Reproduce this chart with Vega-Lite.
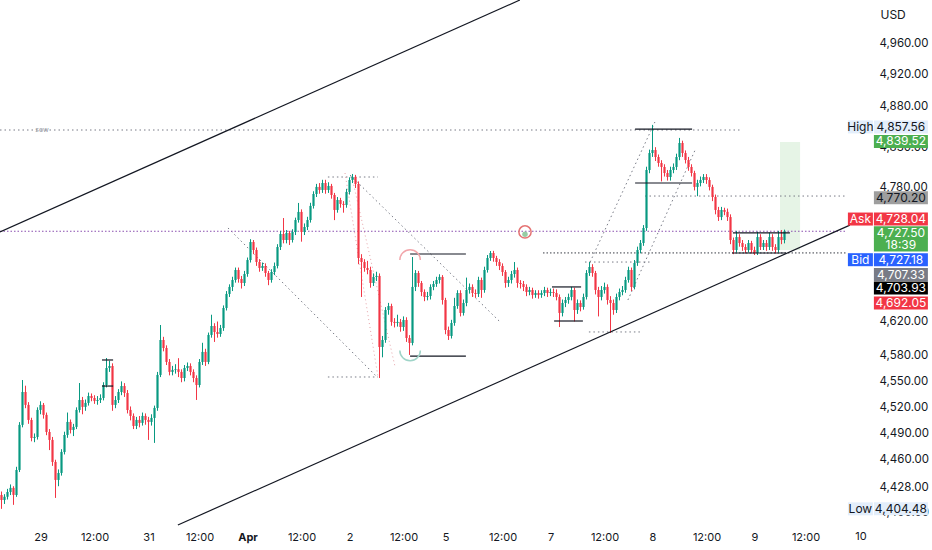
{
"$schema":"https://vega.github.io/schema/vega-lite/v6.json",
"width":846,"height":525,"autosize":{"type":"none"},
"padding":{"left":0,"right":86,"top":0,"bottom":25},
"background":"#ffffff",
"config":{"view":{"stroke":null},"font":"Inter"},
"datasets":{
"one":[{"n":1}],
"candles":[
{"t":0,"o":4420,"h":4424,"l":4404.5,"c":4414.5},{"t":1,"o":4414.5,"h":4421,"l":4410,"c":4418},{"t":2,"o":4418,"h":4427,"l":4415,"c":4423.5},{"t":3,"o":4423.5,"h":4432,"l":4420,"c":4428.1},{"t":4,"o":4428.1,"h":4430,"l":4409,"c":4420.2},{"t":5,"o":4420.2,"h":4452,"l":4418,"c":4448.4},{"t":6,"o":4448.4,"h":4503,"l":4446,"c":4499.8},{"t":7,"o":4499.8,"h":4551.6,"l":4497,"c":4537.7},{"t":8,"o":4537.7,"h":4545,"l":4519,"c":4522.8},{"t":9,"o":4522.8,"h":4526,"l":4501,"c":4505.5},
{"t":10,"o":4505.5,"h":4508,"l":4481,"c":4484.9},{"t":11,"o":4484.9,"h":4490,"l":4480,"c":4486},{"t":12,"o":4486,"h":4520,"l":4483,"c":4517},{"t":13,"o":4517,"h":4527,"l":4512,"c":4522.8},{"t":14,"o":4522.8,"h":4525,"l":4507,"c":4511.3},{"t":15,"o":4511.3,"h":4514,"l":4488,"c":4491.7},{"t":16,"o":4491.7,"h":4495,"l":4471,"c":4482.6},{"t":17,"o":4482.6,"h":4486,"l":4453,"c":4457.5},{"t":18,"o":4457.5,"h":4460,"l":4416.8,"c":4437.1},{"t":19,"o":4437.1,"h":4449,"l":4430,"c":4445},
{"t":20,"o":4445,"h":4472,"l":4442,"c":4468.9},{"t":21,"o":4468.9,"h":4492,"l":4466,"c":4488.3},{"t":22,"o":4488.3,"h":4514,"l":4485,"c":4503.2},{"t":23,"o":4503.2,"h":4506,"l":4490,"c":4494},{"t":24,"o":4494,"h":4501,"l":4487,"c":4497.5},{"t":25,"o":4497.5,"h":4520,"l":4495,"c":4517},{"t":26,"o":4517,"h":4548.1,"l":4514,"c":4528.5},{"t":27,"o":4528.5,"h":4532,"l":4512,"c":4520.5},{"t":28,"o":4520.5,"h":4529,"l":4516,"c":4525.1},{"t":29,"o":4525.1,"h":4537,"l":4522,"c":4533.1},
{"t":30,"o":4533.1,"h":4536,"l":4527,"c":4530.8},{"t":31,"o":4530.8,"h":4534,"l":4524,"c":4527.4},{"t":32,"o":4527.4,"h":4533,"l":4523,"c":4528.5},{"t":33,"o":4528.5,"h":4535,"l":4525,"c":4530.8},{"t":34,"o":4530.8,"h":4549,"l":4528,"c":4545.8},{"t":35,"o":4545.8,"h":4577.2,"l":4543,"c":4565.6},{"t":36,"o":4565.6,"h":4574,"l":4561,"c":4567.9},{"t":37,"o":4567.9,"h":4571,"l":4516,"c":4522.8},{"t":38,"o":4522.8,"h":4533,"l":4519,"c":4528.5},{"t":39,"o":4528.5,"h":4541,"l":4525,"c":4537.7},
{"t":40,"o":4537.7,"h":4550,"l":4534,"c":4544.6},{"t":41,"o":4544.6,"h":4548,"l":4532,"c":4536.6},{"t":42,"o":4536.6,"h":4540,"l":4513,"c":4517},{"t":43,"o":4517,"h":4521,"l":4505,"c":4510.1},{"t":44,"o":4510.1,"h":4513,"l":4495,"c":4498.6},{"t":45,"o":4498.6,"h":4509,"l":4495,"c":4505.5},{"t":46,"o":4505.5,"h":4510,"l":4497,"c":4502.1},{"t":47,"o":4502.1,"h":4514,"l":4499,"c":4510.1},{"t":48,"o":4510.1,"h":4513,"l":4500,"c":4505.5},{"t":49,"o":4505.5,"h":4509,"l":4482.6,"c":4503.2},
{"t":50,"o":4503.2,"h":4512,"l":4499,"c":4507.8},{"t":51,"o":4507.8,"h":4522,"l":4479.2,"c":4519.3},{"t":52,"o":4519.3,"h":4561,"l":4516,"c":4557.5},{"t":53,"o":4557.5,"h":4615.9,"l":4555,"c":4598.3},{"t":54,"o":4598.3,"h":4602,"l":4585,"c":4588.9},{"t":55,"o":4588.9,"h":4592,"l":4569,"c":4572.6},{"t":56,"o":4572.6,"h":4576,"l":4557,"c":4561},{"t":57,"o":4561,"h":4568,"l":4557,"c":4563.3},{"t":58,"o":4563.3,"h":4570,"l":4559,"c":4564.1},{"t":59,"o":4564.1,"h":4577,"l":4555,"c":4561},
{"t":60,"o":4561,"h":4564,"l":4549,"c":4553.9},{"t":61,"o":4553.9,"h":4569,"l":4550,"c":4565.6},{"t":62,"o":4565.6,"h":4572,"l":4562,"c":4567.9},{"t":63,"o":4567.9,"h":4571,"l":4557,"c":4561},{"t":64,"o":4561,"h":4564,"l":4549,"c":4553.9},{"t":65,"o":4553.9,"h":4557,"l":4528.5,"c":4545.8},{"t":66,"o":4545.8,"h":4576,"l":4543,"c":4572.6},{"t":67,"o":4572.6,"h":4595,"l":4569,"c":4584.3},{"t":68,"o":4584.3,"h":4588,"l":4568,"c":4572.6},{"t":69,"o":4572.6,"h":4607,"l":4570,"c":4604.2},
{"t":70,"o":4604.2,"h":4628,"l":4601,"c":4614.7},{"t":71,"o":4614.7,"h":4618,"l":4596,"c":4607.7},{"t":72,"o":4607.7,"h":4620,"l":4601,"c":4605.3},{"t":73,"o":4605.3,"h":4616,"l":4602,"c":4612.3},{"t":74,"o":4612.3,"h":4639,"l":4609,"c":4636},{"t":75,"o":4636,"h":4656,"l":4633,"c":4652.6},{"t":76,"o":4652.6,"h":4664,"l":4649,"c":4660.9},{"t":77,"o":4660.9,"h":4673,"l":4656,"c":4669.2},{"t":78,"o":4669.2,"h":4684,"l":4666,"c":4681.1},{"t":79,"o":4681.1,"h":4684,"l":4666,"c":4670.4},
{"t":80,"o":4670.4,"h":4674,"l":4659,"c":4665.6},{"t":81,"o":4665.6,"h":4680,"l":4662,"c":4676.3},{"t":82,"o":4676.3,"h":4696,"l":4673,"c":4693},{"t":83,"o":4693,"h":4718,"l":4690,"c":4714.6},{"t":84,"o":4714.6,"h":4717,"l":4700,"c":4705},{"t":85,"o":4705,"h":4708,"l":4686,"c":4690.6},{"t":86,"o":4690.6,"h":4694,"l":4679,"c":4683.5},{"t":87,"o":4683.5,"h":4690,"l":4680,"c":4685.9},{"t":88,"o":4685.9,"h":4689,"l":4673,"c":4677.5},{"t":89,"o":4677.5,"h":4680,"l":4663,"c":4669.2},
{"t":90,"o":4669.2,"h":4682,"l":4666,"c":4678.7},{"t":91,"o":4678.7,"h":4690,"l":4675,"c":4685.9},{"t":92,"o":4685.9,"h":4712,"l":4683,"c":4708.6},{"t":93,"o":4708.6,"h":4728,"l":4705,"c":4724.3},{"t":94,"o":4724.3,"h":4743.5,"l":4713,"c":4717},{"t":95,"o":4717,"h":4729,"l":4713,"c":4725.5},{"t":96,"o":4725.5,"h":4728,"l":4711,"c":4717},{"t":97,"o":4717,"h":4730,"l":4714,"c":4726.7},{"t":98,"o":4726.7,"h":4744,"l":4723,"c":4741.1},{"t":99,"o":4741.1,"h":4761.8,"l":4738,"c":4750.9},
{"t":100,"o":4750.9,"h":4754,"l":4715,"c":4726.7},{"t":101,"o":4726.7,"h":4737,"l":4723,"c":4732.7},{"t":102,"o":4732.7,"h":4745,"l":4729,"c":4741.1},{"t":103,"o":4741.1,"h":4762,"l":4738,"c":4758.2},{"t":104,"o":4758.2,"h":4776,"l":4755,"c":4772.7},{"t":105,"o":4772.7,"h":4785,"l":4769,"c":4781.3},{"t":106,"o":4781.3,"h":4786,"l":4773,"c":4777.6},{"t":107,"o":4777.6,"h":4790,"l":4774,"c":4786.1},{"t":108,"o":4786.1,"h":4790,"l":4773,"c":4777.6},{"t":109,"o":4777.6,"h":4787,"l":4774,"c":4782.5},
{"t":110,"o":4782.5,"h":4785,"l":4767,"c":4771.5},{"t":111,"o":4771.5,"h":4774,"l":4741,"c":4753.3},{"t":112,"o":4753.3,"h":4769,"l":4750,"c":4765.4},{"t":113,"o":4765.4,"h":4768,"l":4756,"c":4760.6},{"t":114,"o":4760.6,"h":4764,"l":4750,"c":4759.4},{"t":115,"o":4759.4,"h":4779,"l":4756,"c":4775.2},{"t":116,"o":4775.2,"h":4793,"l":4772,"c":4789.7},{"t":117,"o":4789.7,"h":4797.1,"l":4786,"c":4793.4},{"t":118,"o":4793.4,"h":4796,"l":4780,"c":4784.9},{"t":119,"o":4784.9,"h":4788,"l":4688,"c":4695.4},
{"t":120,"o":4695.4,"h":4700,"l":4649,"c":4690.6},{"t":121,"o":4690.6,"h":4694,"l":4679,"c":4683.5},{"t":122,"o":4683.5,"h":4692,"l":4676,"c":4681.1},{"t":123,"o":4681.1,"h":4685,"l":4660,"c":4665.6},{"t":124,"o":4665.6,"h":4677,"l":4662,"c":4672.8},{"t":125,"o":4672.8,"h":4679,"l":4668,"c":4674},{"t":126,"o":4674,"h":4677,"l":4553.9,"c":4590.1},{"t":127,"o":4590.1,"h":4603,"l":4578,"c":4598.3},{"t":128,"o":4598.3,"h":4637,"l":4595,"c":4633.6},{"t":129,"o":4633.6,"h":4642,"l":4628,"c":4638.3},
{"t":130,"o":4638.3,"h":4641,"l":4615,"c":4619.5},{"t":131,"o":4619.5,"h":4624,"l":4613,"c":4618.3},{"t":132,"o":4618.3,"h":4628,"l":4614,"c":4619.5},{"t":133,"o":4619.5,"h":4623,"l":4608,"c":4613.5},{"t":134,"o":4613.5,"h":4626,"l":4609,"c":4621.8},{"t":135,"o":4621.8,"h":4625,"l":4596,"c":4600.6},{"t":136,"o":4600.6,"h":4604,"l":4580.8,"c":4594.8},{"t":137,"o":4594.8,"h":4696.6,"l":4592,"c":4660.9},{"t":138,"o":4660.9,"h":4681,"l":4656,"c":4677.5},{"t":139,"o":4677.5,"h":4680,"l":4661,"c":4665.6},
{"t":140,"o":4665.6,"h":4668,"l":4650,"c":4654.9},{"t":141,"o":4654.9,"h":4658,"l":4644,"c":4649},{"t":142,"o":4649,"h":4655,"l":4645,"c":4650.2},{"t":143,"o":4650.2,"h":4664,"l":4646,"c":4660.9},{"t":144,"o":4660.9,"h":4668,"l":4657,"c":4664.4},{"t":145,"o":4664.4,"h":4673,"l":4661,"c":4669.2},{"t":146,"o":4669.2,"h":4676,"l":4665,"c":4672.8},{"t":147,"o":4672.8,"h":4675,"l":4640,"c":4645.4},{"t":148,"o":4645.4,"h":4648,"l":4605,"c":4610},{"t":149,"o":4610,"h":4614,"l":4598.3,"c":4603},
{"t":150,"o":4603,"h":4622,"l":4600,"c":4618.3},{"t":151,"o":4618.3,"h":4648,"l":4615,"c":4638.3},{"t":152,"o":4638.3,"h":4657,"l":4635,"c":4653.7},{"t":153,"o":4653.7,"h":4657,"l":4626,"c":4630.1},{"t":154,"o":4630.1,"h":4646,"l":4627,"c":4641.9},{"t":155,"o":4641.9,"h":4672,"l":4638,"c":4657.3},{"t":156,"o":4657.3,"h":4665,"l":4653,"c":4660.9},{"t":157,"o":4660.9,"h":4664,"l":4649,"c":4653.7},{"t":158,"o":4653.7,"h":4658,"l":4648,"c":4652.6},{"t":159,"o":4652.6,"h":4673,"l":4649,"c":4669.2},
{"t":160,"o":4669.2,"h":4672,"l":4648,"c":4657.3},{"t":161,"o":4657.3,"h":4685,"l":4654,"c":4681.1},{"t":162,"o":4681.1,"h":4699,"l":4678,"c":4695.4},{"t":163,"o":4695.4,"h":4703.8,"l":4692,"c":4701.4},{"t":164,"o":4701.4,"h":4704,"l":4691,"c":4695.4},{"t":165,"o":4695.4,"h":4698,"l":4686,"c":4690.6},{"t":166,"o":4690.6,"h":4694,"l":4681,"c":4685.9},{"t":167,"o":4685.9,"h":4689,"l":4674,"c":4678.7},{"t":168,"o":4678.7,"h":4681,"l":4660,"c":4665.6},{"t":169,"o":4665.6,"h":4673,"l":4661,"c":4669.2},
{"t":170,"o":4669.2,"h":4680,"l":4665,"c":4676.3},{"t":171,"o":4676.3,"h":4690.6,"l":4672,"c":4681.1},{"t":172,"o":4681.1,"h":4684,"l":4660,"c":4665.6},{"t":173,"o":4665.6,"h":4669,"l":4659,"c":4664.4},{"t":174,"o":4664.4,"h":4668,"l":4656,"c":4660.9},{"t":175,"o":4660.9,"h":4664,"l":4650,"c":4654.9},{"t":176,"o":4654.9,"h":4661,"l":4651,"c":4657.3},{"t":177,"o":4657.3,"h":4660,"l":4647,"c":4651.4},{"t":178,"o":4651.4,"h":4657,"l":4648,"c":4653.7},{"t":179,"o":4653.7,"h":4657,"l":4647,"c":4651.4},
{"t":180,"o":4651.4,"h":4657,"l":4648,"c":4653.7},{"t":181,"o":4653.7,"h":4661,"l":4650,"c":4657.3},{"t":182,"o":4657.3,"h":4660,"l":4649,"c":4653.7},{"t":183,"o":4653.7,"h":4659,"l":4650,"c":4654.9},{"t":184,"o":4654.9,"h":4659,"l":4649,"c":4653.7},{"t":185,"o":4653.7,"h":4658,"l":4645,"c":4649},{"t":186,"o":4649,"h":4652,"l":4613.5,"c":4630.1},{"t":187,"o":4630.1,"h":4646,"l":4626,"c":4641.9},{"t":188,"o":4641.9,"h":4649,"l":4637,"c":4645.4},{"t":189,"o":4645.4,"h":4653,"l":4641,"c":4649},
{"t":190,"o":4649,"h":4661,"l":4645,"c":4657.3},{"t":191,"o":4657.3,"h":4660,"l":4620,"c":4633.6},{"t":192,"o":4633.6,"h":4646,"l":4629,"c":4641.9},{"t":193,"o":4641.9,"h":4645,"l":4632,"c":4637.1},{"t":194,"o":4637.1,"h":4653,"l":4634,"c":4649},{"t":195,"o":4649,"h":4681,"l":4646,"c":4677.5},{"t":196,"o":4677.5,"h":4690.6,"l":4674,"c":4684.7},{"t":197,"o":4684.7,"h":4688,"l":4673,"c":4677.5},{"t":198,"o":4677.5,"h":4680,"l":4652,"c":4657.3},{"t":199,"o":4657.3,"h":4661,"l":4626,"c":4649},
{"t":200,"o":4649,"h":4662,"l":4645,"c":4657.3},{"t":201,"o":4657.3,"h":4666,"l":4653,"c":4660.9},{"t":202,"o":4660.9,"h":4664,"l":4640,"c":4645.4},{"t":203,"o":4645.4,"h":4650,"l":4606.5,"c":4641.9},{"t":204,"o":4641.9,"h":4646,"l":4628,"c":4633.6},{"t":205,"o":4633.6,"h":4653,"l":4630,"c":4649},{"t":206,"o":4649,"h":4659,"l":4645,"c":4654.9},{"t":207,"o":4654.9,"h":4662,"l":4651,"c":4657.3},{"t":208,"o":4657.3,"h":4673,"l":4654,"c":4669.2},{"t":209,"o":4669.2,"h":4685,"l":4666,"c":4681.1},
{"t":210,"o":4681.1,"h":4684,"l":4656,"c":4660.9},{"t":211,"o":4660.9,"h":4693,"l":4658,"c":4689.4},{"t":212,"o":4689.4,"h":4709,"l":4686,"c":4705},{"t":213,"o":4705,"h":4717,"l":4701,"c":4713.4},{"t":214,"o":4713.4,"h":4735,"l":4710,"c":4731.5},{"t":215,"o":4731.5,"h":4806,"l":4728,"c":4802},{"t":216,"o":4802,"h":4827,"l":4798,"c":4822.8},{"t":217,"o":4822.8,"h":4857.56,"l":4818,"c":4826.5},{"t":218,"o":4826.5,"h":4830,"l":4813,"c":4817.9},{"t":219,"o":4817.9,"h":4821,"l":4806,"c":4810.5},
{"t":220,"o":4810.5,"h":4814,"l":4788,"c":4805.7},{"t":221,"o":4805.7,"h":4809,"l":4794,"c":4798.3},{"t":222,"o":4798.3,"h":4802,"l":4789,"c":4793.4},{"t":223,"o":4793.4,"h":4806,"l":4789,"c":4802},{"t":224,"o":4802,"h":4810,"l":4798,"c":4805.7},{"t":225,"o":4805.7,"h":4822,"l":4802,"c":4817.9},{"t":226,"o":4817.9,"h":4841.4,"l":4814,"c":4835.2},{"t":227,"o":4835.2,"h":4838,"l":4818,"c":4822.8},{"t":228,"o":4822.8,"h":4826,"l":4810,"c":4814.2},{"t":229,"o":4814.2,"h":4818,"l":4801,"c":4805.7},
{"t":230,"o":4805.7,"h":4809,"l":4794,"c":4798.3},{"t":231,"o":4798.3,"h":4801,"l":4777,"c":4781.3},{"t":232,"o":4781.3,"h":4790,"l":4770,"c":4786.1},{"t":233,"o":4786.1,"h":4794,"l":4782,"c":4789.7},{"t":234,"o":4789.7,"h":4797,"l":4786,"c":4793.4},{"t":235,"o":4793.4,"h":4797,"l":4785,"c":4789.7},{"t":236,"o":4789.7,"h":4793,"l":4777,"c":4781.3},{"t":237,"o":4781.3,"h":4784,"l":4764,"c":4769.1},{"t":238,"o":4769.1,"h":4772,"l":4748,"c":4753.3},{"t":239,"o":4753.3,"h":4757,"l":4740,"c":4744.7},
{"t":240,"o":4744.7,"h":4757,"l":4741,"c":4753.3},{"t":241,"o":4753.3,"h":4756,"l":4747,"c":4751},{"t":242,"o":4751,"h":4755,"l":4740,"c":4744.7},{"t":243,"o":4744.7,"h":4748,"l":4712,"c":4717},{"t":244,"o":4717,"h":4720,"l":4700,"c":4705},{"t":245,"o":4705,"h":4728,"l":4702,"c":4720.6},{"t":246,"o":4720.6,"h":4724,"l":4709,"c":4713.4},{"t":247,"o":4713.4,"h":4717,"l":4704,"c":4708.6},{"t":248,"o":4708.6,"h":4712,"l":4701,"c":4705},{"t":249,"o":4705,"h":4717,"l":4702,"c":4713.4},
{"t":250,"o":4713.4,"h":4716,"l":4701,"c":4705},{"t":251,"o":4705,"h":4709,"l":4699,"c":4701.4},{"t":252,"o":4701.4,"h":4727,"l":4699,"c":4720.6},{"t":253,"o":4720.6,"h":4724,"l":4705,"c":4708.6},{"t":254,"o":4708.6,"h":4717,"l":4705,"c":4713.4},{"t":255,"o":4713.4,"h":4717,"l":4704,"c":4708.6},{"t":256,"o":4708.6,"h":4726,"l":4705,"c":4720.6},{"t":257,"o":4720.6,"h":4724,"l":4704,"c":4708.6},{"t":258,"o":4708.6,"h":4712,"l":4701,"c":4705},{"t":259,"o":4705,"h":4728,"l":4702,"c":4720.6},
{"t":260,"o":4720.6,"h":4729,"l":4712,"c":4717},{"t":261,"o":4717,"h":4729.5,"l":4713,"c":4727.5}
],
"lines":[
{"id":"up","k":"s","t":-0.5,"p":4726.7},{"id":"up","k":"s","t":172.8,"p":5014.7},
{"id":"lo","k":"s","t":58.8,"p":4386.4},{"id":"lo","k":"s","t":282.8,"p":4735},
{"id":"b1a","k":"s","t":33.5,"p":4574.9},{"id":"b1a","k":"s","t":37.2,"p":4574.9},
{"id":"b1b","k":"s","t":33.5,"p":4544.6},{"id":"b1b","k":"s","t":37.2,"p":4544.6},
{"id":"b2a","k":"s","t":136.2,"p":4700.2},{"id":"b2a","k":"s","t":154.8,"p":4700.2},
{"id":"b2b","k":"s","t":136.2,"p":4579.5},{"id":"b2b","k":"s","t":154.8,"p":4579.5},
{"id":"b3a","k":"s","t":183.5,"p":4660.9},{"id":"b3a","k":"s","t":193.2,"p":4660.9},
{"id":"b3b","k":"s","t":184.2,"p":4620.6},{"id":"b3b","k":"s","t":193.8,"p":4620.6},
{"id":"b4a","k":"s","t":211.2,"p":4852.4},{"id":"b4a","k":"s","t":230.2,"p":4852.4},
{"id":"b4b","k":"s","t":211.2,"p":4786.1},{"id":"b4b","k":"s","t":230.2,"p":4786.1},
{"id":"b5a","k":"s","t":243.8,"p":4725.5},{"id":"b5a","k":"s","t":262.8,"p":4725.5},
{"id":"b5b","k":"s","t":243.5,"p":4701.4},{"id":"b5b","k":"s","t":261.5,"p":4701.4},
{"id":"sow","k":"d","t":-0.5,"p":4851.2},{"id":"sow","k":"d","t":246.8,"p":4851.2},
{"id":"d177","k":"d","t":108.8,"p":4793.4},{"id":"d177","k":"d","t":125.5,"p":4793.4},
{"id":"d377","k":"d","t":108.8,"p":4555.1},{"id":"d377","k":"d","t":125.5,"p":4555.1},
{"id":"d332","k":"d","t":195.8,"p":4607.7},{"id":"d332","k":"d","t":213.8,"p":4607.7},
{"id":"d262","k":"d","t":194.5,"p":4690.6},{"id":"d262","k":"d","t":216.2,"p":4690.6},
{"id":"d770","k":"d","t":214.5,"p":4770.2},{"id":"d770","k":"d","t":281.5,"p":4770.2},
{"id":"diag1","k":"d","t":75.5,"p":4731.5},{"id":"diag1","k":"d","t":125.2,"p":4555.1},
{"id":"diag2","k":"d","t":116.2,"p":4795.8},{"id":"diag2","k":"d","t":166.2,"p":4619.5},
{"id":"par1","k":"d","t":196.2,"p":4690.6},{"id":"par1","k":"d","t":217.8,"p":4861.1},
{"id":"par2","k":"d","t":208.8,"p":4645.4},{"id":"par2","k":"d","t":231.2,"p":4826.5},
{"id":"f1","k":"f","t":114.5,"p":4798.3},{"id":"f1","k":"f","t":125.5,"p":4555.1},
{"id":"f2","k":"f","t":116.8,"p":4793.4},{"id":"f2","k":"f","t":131.2,"p":4566.8},
{"id":"bid","k":"k","t":180.5,"p":4701.5},{"id":"bid","k":"k","t":281.5,"p":4701.5},
{"id":"cur","k":"p","t":-0.5,"p":4727.5},{"id":"cur","k":"p","t":281.5,"p":4727.5}
],
"zones":[{"t1":259.5,"t2":266.2,"p1":4836.4,"p2":4705}],
"tags":[
{"txt":"4,857.56","pos":4855,"k":"hl"},
{"txt":"4,839.52","pos":4837,"k":"g"},
{"txt":"4,770.20","pos":4768,"k":"gr"},
{"txt":"4,728.04","pos":4742.3,"k":"r"},
{"txt":"4,727.50","pos":4725.8,"k":"g"},
{"txt":"18:39","pos":4711,"k":"g"},
{"txt":"4,727.18","pos":4693.4,"k":"b"},
{"txt":"4,707.33","pos":4675.7,"k":"m"},
{"txt":"4,703.93","pos":4659.7,"k":"k"},
{"txt":"4,692.05","pos":4641.9,"k":"r"},
{"txt":"4,404.48","pos":4404.48,"k":"hl"}
],
"names":[
{"txt":"High","pos":4855,"k":"hl"},
{"txt":"Ask","pos":4742.3,"k":"r"},
{"txt":"Bid","pos":4693.4,"k":"b"},
{"txt":"Low","pos":4404.48,"k":"hl"}
]
},
"layer":[
{"data":{"name":"zones"},
 "mark":{"type":"rect","color":"#4caf50","opacity":0.14},
 "encoding":{
  "x":{"field":"t1","type":"quantitative","scale":{"domain":[-0.5,281.5],"nice":false,"zero":false,"padding":0},
   "axis":{"values":[13,31,49,66,82,100,116,134,148,167,183,201,217,235,251,268],"labelExpr":"datum.value==13?'29':datum.value==49?'31':datum.value==82?'Apr':datum.value==116?'2':datum.value==148?'5':datum.value==183?'7':datum.value==217?'8':datum.value==251?'9':'12:00'","labelFontWeight":{"condition":{"test":"datum.value==82","value":"bold"},"value":"normal"},"title":null,"grid":false,"domain":false,"ticks":false,"labelPadding":6,"labelFontSize":11,"labelColor":"#131722","labelFont":"Inter","labelFlush":false}},
  "x2":{"field":"t2"},
  "y":{"field":"p1","type":"quantitative","scale":{"type":"log","domain":[4386.4,5014.7],"nice":false,"zero":false,"padding":0},
   "axis":{"orient":"right","values":[4400,4428,4460,4490,4520,4550,4580,4620,4780,4830,4880,4920,4960],"format":",.2f","title":null,"grid":false,"domain":false,"ticks":false,"labelPadding":33,"labelAlign":"left","labelFontSize":11.5,"labelColor":"#131722","labelFont":"Inter"}},
  "y2":{"field":"p2"}}},
{"data":{"name":"lines"},"transform":[{"filter":"datum.k=='d'"}],
 "mark":{"type":"line","color":"#787b86","strokeWidth":1,"strokeDash":[1.5,3]},
 "encoding":{"x":{"field":"t","type":"quantitative"},"y":{"field":"p","type":"quantitative"},"detail":{"field":"id"}}},
{"data":{"name":"lines"},"transform":[{"filter":"datum.k=='f'"}],
 "mark":{"type":"line","color":"#e6a3a9","strokeWidth":1,"strokeDash":[1,3]},
 "encoding":{"x":{"field":"t","type":"quantitative"},"y":{"field":"p","type":"quantitative"},"detail":{"field":"id"}}},
{"data":{"name":"lines"},"transform":[{"filter":"datum.k=='p'"}],
 "mark":{"type":"line","color":"#8a4fb0","strokeWidth":1.1,"strokeDash":[1.5,2]},
 "encoding":{"x":{"field":"t","type":"quantitative"},"y":{"field":"p","type":"quantitative"},"detail":{"field":"id"}}},
{"data":{"name":"lines"},"transform":[{"filter":"datum.k=='k'"}],
 "mark":{"type":"line","color":"#3a3d46","strokeWidth":1,"strokeDash":[1.5,2]},
 "encoding":{"x":{"field":"t","type":"quantitative"},"y":{"field":"p","type":"quantitative"},"detail":{"field":"id"}}},
{"data":{"name":"candles"},
 "mark":{"type":"rule","strokeWidth":1},
 "encoding":{"x":{"field":"t","type":"quantitative"},"y":{"field":"l","type":"quantitative"},"y2":{"field":"h"},
  "color":{"condition":{"test":"datum.c>=datum.o","value":"#089981"},"value":"#f23645"}}},
{"data":{"name":"candles"},
 "mark":{"type":"bar","size":2.2,"orient":"vertical"},
 "encoding":{"x":{"field":"t","type":"quantitative"},"y":{"field":"o","type":"quantitative"},"y2":{"field":"c"},
  "color":{"condition":{"test":"datum.c>=datum.o","value":"#089981"},"value":"#f23645"}}},
{"data":{"name":"lines"},"transform":[{"filter":"datum.k=='s'"}],
 "mark":{"type":"line","color":"#131722","strokeWidth":1.2},
 "encoding":{"x":{"field":"t","type":"quantitative"},"y":{"field":"p","type":"quantitative"},"detail":{"field":"id"}}},
{"data":{"name":"one"},
 "mark":{"type":"point","shape":"circle","size":150,"filled":false,"stroke":"#e57373","strokeWidth":1.5,"opacity":1},
 "encoding":{"x":{"datum":174.5},"y":{"datum":4726.7}}},
{"data":{"name":"one"},
 "mark":{"type":"point","shape":"circle","size":30,"filled":true,"color":"#8bc79a","opacity":0.9},
 "encoding":{"x":{"datum":174.5},"y":{"datum":4724}}},
{"data":{"name":"one"},
 "mark":{"type":"point","shape":"M -1 0 A 1 1 0 0 1 1 0","size":420,"filled":false,"stroke":"#f2a6ab","strokeWidth":1.5,"opacity":1},
 "encoding":{"x":{"datum":136.2},"y":{"datum":4693}}},
{"data":{"name":"one"},
 "mark":{"type":"point","shape":"M -1 0 A 1 1 0 0 0 1 0","size":420,"filled":false,"stroke":"#9fd4c8","strokeWidth":1.5,"opacity":1},
 "encoding":{"x":{"datum":136.2},"y":{"datum":4586}}},
{"data":{"name":"tags"},
 "mark":{"type":"tick","orient":"horizontal","thickness":13,"size":54,"opacity":1},
 "encoding":{"x":{"datum":299.8},"y":{"field":"pos","type":"quantitative"},
  "color":{"field":"k","type":"nominal","legend":null,"scale":{"domain":["hl","g","gr","r","b","m","k"],"range":["#e3eefb","#4caf50","#9e9e9e","#f23645","#2962ff","#787b86","#000000"]}}}},
{"data":{"name":"names"},
 "mark":{"type":"tick","orient":"horizontal","thickness":13,"size":25,"opacity":1},
 "encoding":{"x":{"datum":286.3},"y":{"field":"pos","type":"quantitative"},
  "color":{"field":"k","type":"nominal","legend":null}}},
{"data":{"name":"tags"},
 "mark":{"type":"text","fontSize":12,"align":"center","baseline":"middle","font":"Inter"},
 "encoding":{"x":{"datum":299.8},"y":{"field":"pos","type":"quantitative"},"text":{"field":"txt"},
  "fill":{"condition":{"test":"datum.k=='hl'||datum.k=='gr'","value":"#131722"},"value":"#ffffff"}}},
{"data":{"name":"names"},
 "mark":{"type":"text","fontSize":12,"align":"center","baseline":"middle","font":"Inter"},
 "encoding":{"x":{"datum":286.3},"y":{"field":"pos","type":"quantitative"},"text":{"field":"txt"},
  "fill":{"condition":{"test":"datum.k=='hl'","value":"#131722"},"value":"#ffffff"}}},
{"data":{"name":"one"},
 "mark":{"type":"text","text":"USD","fontSize":12,"align":"center","baseline":"middle","color":"#131722","font":"Inter"},
 "encoding":{"x":{"datum":297.2},"y":{"datum":4995.6}}},
{"data":{"name":"one"},
 "mark":{"type":"text","text":"10","fontSize":11,"align":"center","baseline":"middle","color":"#131722","font":"Inter"},
 "encoding":{"x":{"datum":286.5},"y":{"datum":4373}}},
{"data":{"name":"one"},
 "mark":{"type":"text","text":"sow","fontSize":7,"align":"center","baseline":"middle","color":"#9598a1","font":"Inter"},
 "encoding":{"x":{"datum":13.5},"y":{"datum":4851.2}}}
]
}
